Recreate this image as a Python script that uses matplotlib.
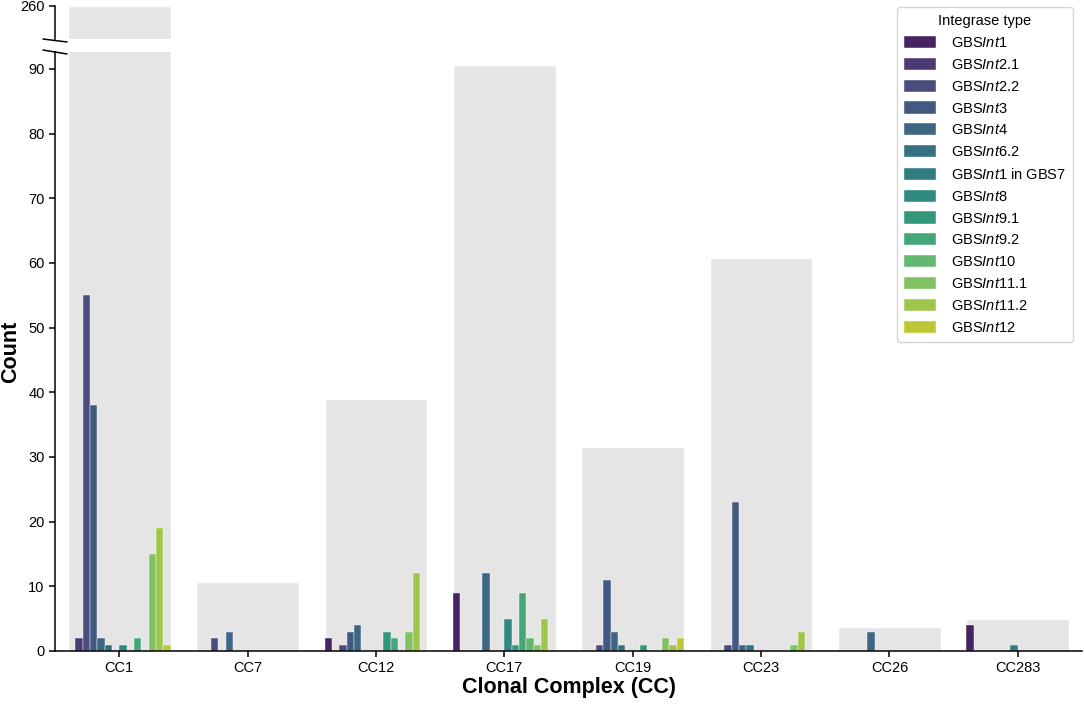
import pandas as pd
import matplotlib.pyplot as plt
import seaborn as sns
from matplotlib.lines import Line2D

sns.set_style("ticks")
plt.rcParams["font.family"] = ["Liberation Sans", "DejaVu Sans"]
plt.rcParams["mathtext.fontset"] = "custom"
plt.rcParams["mathtext.rm"] = "Liberation Sans"
plt.rcParams["mathtext.it"] = "Liberation Sans:italic"
plt.rcParams["text.color"] = "black"
plt.rcParams["axes.labelcolor"] = "black"
plt.rcParams["axes.edgecolor"] = "black"
plt.rcParams["xtick.color"] = "black"
plt.rcParams["ytick.color"] = "black"

cc_labels = ["CC1", "CC7", "CC12", "CC17", "CC19", "CC23", "CC26", "CC283"]
cc_totals = [260, 10.7, 38.9, 90.6, 31.6, 60.7, 3.7, 5.0]

int_labels = ["GBS$\\mathit{Int}$1", "GBS$\\mathit{Int}$2.1", "GBS$\\mathit{Int}$2.2",
              "GBS$\\mathit{Int}$3", "GBS$\\mathit{Int}$4", "GBS$\\mathit{Int}$6.2",
              "GBS$\\mathit{Int}$1 in GBS7", "GBS$\\mathit{Int}$8", "GBS$\\mathit{Int}$9.1",
              "GBS$\\mathit{Int}$9.2", "GBS$\\mathit{Int}$10", "GBS$\\mathit{Int}$11.1",
              "GBS$\\mathit{Int}$11.2", "GBS$\\mathit{Int}$12"]

# counts per CC, one value per integrase type (same order as int_labels)
counts_cc1 = [0, 2, 55, 38, 2, 1, 0, 1, 0, 2, 0, 15, 19, 1]
counts_cc7 = [0, 0, 2, 0, 3, 0, 0, 0, 0, 0, 0, 0, 0, 0]
counts_cc12 = [2, 0, 1, 3, 4, 0, 0, 0, 3, 2, 0, 3, 12, 0]
counts_cc17 = [9, 0, 0, 0, 12, 0, 0, 5, 1, 9, 2, 1, 5, 0]
counts_cc19 = [0, 0, 1, 11, 3, 1, 0, 0, 1, 0, 0, 2, 1, 2]
counts_cc23 = [0, 0, 1, 23, 1, 1, 0, 0, 0, 0, 0, 1, 3, 0]
counts_cc26 = [0, 0, 0, 0, 3, 0, 0, 0, 0, 0, 0, 0, 0, 0]
counts_cc283 = [4, 0, 0, 0, 0, 0, 1, 0, 0, 0, 0, 0, 0, 0]
counts = [counts_cc1, counts_cc7, counts_cc12, counts_cc17,
          counts_cc19, counts_cc23, counts_cc26, counts_cc283]

rows = []
for cc, vals in zip(cc_labels, counts):
    for name, v in zip(int_labels, vals):
        if v > 0:
            rows.append({"cc": cc, "int": name, "count": v})
df = pd.DataFrame(rows)
df_tot = pd.DataFrame({"cc": cc_labels, "total": cc_totals})

fig = plt.figure(figsize=(10.84, 7.05), dpi=100)
ax_top = fig.add_axes([55/1084, 1-39/705, 1027/1084, 33/705])
ax = fig.add_axes([55/1084, 1-651/705, 1027/1084, 599/705])

grey = "#e5e5e5"
for a in (ax_top, ax):
    sns.barplot(data=df_tot, x="cc", y="total", order=cc_labels, color=grey,
                saturation=1, width=0.8, ax=a, errorbar=None)

sns.barplot(data=df, x="cc", y="count", hue="int", order=cc_labels,
            hue_order=int_labels, palette="viridis", width=0.8, gap=0, ax=ax,
            errorbar=None, edgecolor="white", linewidth=0.3)

ax.set_ylim(0, 92.6)
ax.set_xlim(-0.5, 7.5)
ax.set_yticks(range(0, 91, 10))
ax_top.set_ylim(255, 260)
ax_top.set_xlim(-0.5, 7.5)
ax_top.set_yticks([260])
ax_top.set_xticks([])
ax_top.set_xlabel("")
ax_top.set_ylabel("")

for a in (ax_top, ax):
    a.spines["top"].set_visible(False)
    a.spines["right"].set_visible(False)
    a.spines["left"].set_linewidth(1.1)
    a.spines["bottom"].set_linewidth(1.1)
    a.tick_params(labelsize=10.5, width=1.1, length=4)
ax_top.spines["bottom"].set_visible(False)

ax.set_xlabel("Clonal Complex (CC)", fontsize=15.5, fontweight="bold", labelpad=1)
ax.set_ylabel("Count", fontsize=15.5, fontweight="bold", labelpad=5)

# axis break marks
for y0, y1 in [(39, 42), (50, 54)]:
    fig.add_artist(Line2D([43/1084, 67/1084], [1-y0/705, 1-y1/705],
                          color="black", linewidth=1.1))

ax.legend(title="Integrase type", loc="upper right",
          bbox_to_anchor=(1073/1084, 1-7/705), bbox_transform=fig.transFigure,
          borderaxespad=0,
          fontsize=10.5, title_fontsize=10.5, handlelength=2.2, handleheight=0.9,
          labelspacing=0.53, handletextpad=1.0, borderpad=0.5, frameon=True)

fig.savefig("out.png", dpi=100)
